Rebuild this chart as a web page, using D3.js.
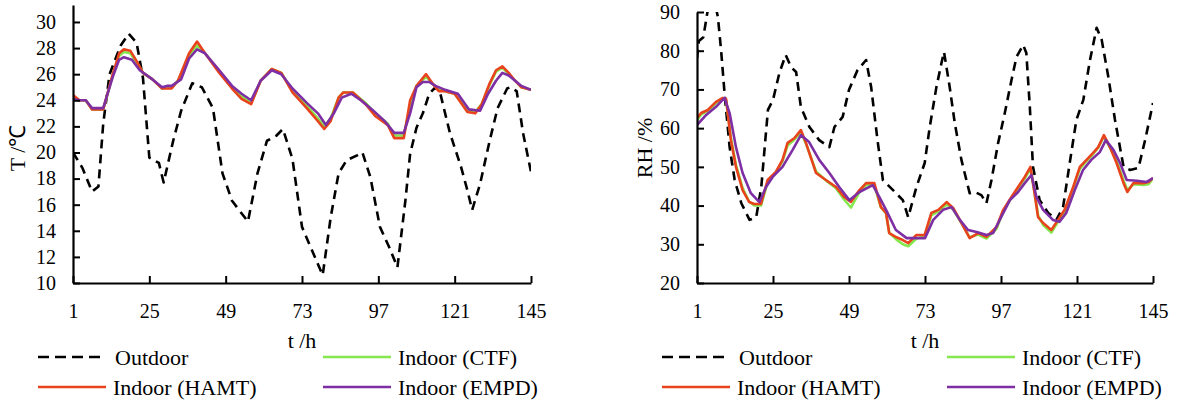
<!DOCTYPE html>
<html>
<head>
<meta charset="utf-8">
<script src="https://cdn.jsdelivr.net/npm/d3@7"></script>
<style>
  body { margin: 0; background: #fff; }
  text { font-family: "Liberation Serif", "Times New Roman", serif; fill: #000; }
</style>
</head>
<body>
<svg id="chart" width="1177" height="404"></svg>
<script>
// hours shown on both x axes
var hourTicks = [1, 25, 49, 73, 97, 121, 145];
var tempTicks = [10, 12, 14, 16, 18, 20, 22, 24, 26, 28, 30];
var rhTicks = [20, 30, 40, 50, 60, 70, 80, 90];

// temperature, [hour, degC]
var tOutdoor = [[1,20],[4,18.8],[7,17],[9,17.4],[10.5,22.2],[12.5,26],[16,28.2],[18.5,29.1],[21,28.4],[23,25.7],[25,19.6],[28,19.2],[29.5,17.7],[32.5,20.9],[35,23.2],[38.5,25.3],[41.5,25],[45,23.4],[48,18.4],[51,16.3],[56,14.7],[59,18.4],[62,20.9],[65,21.3],[67,21.8],[70,19.5],[73,14.3],[76.5,12.3],[79.5,10.6],[82,15],[84.5,18.4],[87,19.4],[90.5,19.8],[92,20],[94.5,18.1],[97.5,14.3],[100.5,12.7],[103,11.2],[105.5,16.3],[107,19.9],[109,21.9],[111,23],[113,24.5],[115,25],[116.5,24.5],[119.5,21.5],[123,18.9],[125,17.1],[126.5,15.6],[129,17.6],[132,20.9],[134.5,23.4],[137.5,24.9],[138.5,25],[140.5,24.7],[142.5,21.5],[145,18.5]];
var tCTF = [[1,24.3],[3,24],[5,24],[7,23.3],[10.5,23.3],[13.5,25.9],[15.5,27.4],[17,27.7],[19,27.6],[21,26.9],[23,26.1],[26,25.6],[29,24.9],[32,25],[34,25.5],[37.5,27.4],[40,28.2],[42.5,27.6],[47,26.2],[51,25],[54,24.3],[57,23.8],[60,25.5],[63.5,26.4],[66.5,26.1],[70,24.7],[74.5,23.6],[78,22.6],[80,22],[82,22.6],[84.5,24.2],[86,24.6],[89,24.6],[93,23.8],[96,23],[100,22.2],[102,21.3],[105,21.3],[107,23.6],[109,25.1],[112,25.8],[114,25.3],[116,24.8],[118,24.7],[121,24.5],[125,23.2],[127.5,23.1],[129.5,23.7],[132,25.2],[134,26.2],[136,26.5],[138,26],[140,25.5],[142,25],[145,24.8]];
var tHAMT = [[1,24.4],[3,24],[5,24],[7,23.3],[10.5,23.3],[13.5,26],[15.5,27.6],[17,27.9],[19,27.8],[21,27],[23,26.1],[26,25.6],[29,24.9],[32,24.9],[34,25.5],[37.5,27.6],[40,28.5],[42.5,27.6],[47,26.1],[51,24.9],[54,24.1],[57,23.7],[60,25.5],[63.5,26.4],[66.5,26.1],[70,24.6],[74.5,23.4],[78,22.4],[80,21.8],[82,22.4],[84.5,24.2],[86,24.6],[89,24.6],[93,23.7],[96,22.8],[100,22.1],[102,21.1],[105,21.1],[107,24],[109,25.1],[112,26],[114,25.3],[116,24.7],[118,24.7],[121,24.5],[125,23.1],[127.5,23],[129.5,23.7],[132,25.3],[134,26.3],[136,26.6],[138,26.1],[140,25.5],[142,25],[145,24.8]];
var tEMPD = [[1,24.1],[3,24],[5,24],[7,23.4],[10.5,23.4],[13.5,25.8],[15.5,27.1],[17,27.3],[19.5,27.1],[22,26.3],[26,25.6],[29,25],[30.5,25.1],[32,25.1],[35,25.6],[37.5,27.2],[40,27.9],[42.5,27.6],[47,26.3],[51,25.1],[54,24.5],[57,24],[60,25.5],[63.5,26.3],[66.5,26],[70,24.9],[74.5,23.8],[78,23],[80.5,22.1],[83,23],[85.5,24.2],[88.5,24.5],[91.5,24],[95,23.3],[99,22.4],[102,21.5],[105,21.5],[107,23],[109,25],[111,25.4],[113,25.4],[115,25.1],[118,24.8],[122,24.5],[125.5,23.3],[129,23.2],[131.5,24.5],[134,25.5],[136,26.1],[138,25.9],[140,25.5],[142,25.1],[145,24.8]];

// relative humidity, [hour, %]
var rhOutdoor = [[1,78],[1.6,82.5],[3,83.5],[4.5,91],[7,91],[7.6,88.7],[8.6,80.2],[9.7,69],[11.3,55.1],[12.9,46.6],[15,40.6],[17.6,36.3],[19.7,37],[21.3,44.8],[23.4,64.7],[25,67.3],[27,74.2],[29,78.9],[30.7,75.8],[32.3,74.5],[33.8,65.5],[36.5,60.3],[39.6,56.9],[42.8,55.1],[44.4,60.3],[47,62.9],[49,69.9],[51.7,75],[54.4,77.6],[56,70.6],[58,56.9],[59.7,46.6],[62.9,44],[66,41.4],[67.7,37],[70.3,44.8],[72.9,51],[74.5,60.3],[76.6,70.6],[78.2,76.8],[79,79.7],[80.8,70.6],[82.4,61.3],[84.5,51.8],[87.1,43.2],[88.7,43.5],[90.8,42.7],[92.4,40.6],[94,46.6],[96.1,56.2],[98.2,63.9],[100.3,72.4],[101.9,78.4],[104,81.5],[105,79.4],[106.1,65.5],[107.1,50],[109.2,41.4],[111.9,38.1],[114.5,36.3],[116.6,39.6],[118.7,51],[120.8,62.1],[123,67.3],[125.1,77.6],[127.2,85.9],[128.8,82.8],[130.9,73.2],[133,62.1],[135.7,50],[137.8,49.2],[140.4,49.7],[142.5,56.9],[145,66.5]];
var rhCTF = [[1,62],[2.3,63.5],[4.4,64.5],[7,66.5],[9.1,67.5],[10.2,67.2],[11.7,57.5],[13.3,50.5],[15.4,44.5],[17.5,41],[19.1,40],[21.2,40],[23.3,46],[25.9,48.5],[28,51.5],[29.6,55.5],[31.7,57],[33.8,59],[35.4,56],[38.6,48.8],[41.7,46.5],[44.9,44.5],[47.5,41.5],[49.6,39.5],[52.3,43.5],[54.4,45.3],[57,45.3],[59.1,39.5],[60.7,38],[61.7,33],[64,31.2],[66,30],[67.7,29.5],[70.3,31.5],[72.9,32],[75,37.5],[77.2,38.5],[79.8,40.3],[81.9,39],[84.5,35.5],[87.1,31.8],[89.8,32.5],[92.4,31.5],[95.6,34],[97.7,38.5],[100.3,42],[102.4,44.5],[104.5,47],[106.3,49.5],[107.6,43.5],[108.7,37.5],[110.3,35],[112.9,33],[115,35.8],[117.1,38.5],[119.8,44.5],[121.9,49.5],[124,51.5],[126.1,53.3],[127.7,55],[129.5,57.8],[131.4,55],[133.5,51.5],[135.7,46.5],[136.9,44],[138.8,45.5],[142,45.3],[143.6,45.5],[145,47]];
var rhHAMT = [[1,62.6],[2.3,63.9],[4.4,64.7],[7,66.8],[9.1,67.8],[10.2,67.5],[11.7,56.9],[13.3,50],[15.4,44],[17.5,40.9],[19.1,40.4],[21.2,40.4],[23.3,46.6],[25.9,48.7],[28,51.8],[29.6,56.2],[31.7,57.4],[33.8,59.5],[35.4,56.2],[38.6,48.4],[41.7,46.6],[44.9,44.8],[47.5,42.2],[49.6,40.9],[52.3,44],[54.4,45.8],[57,45.8],[59.1,39.6],[60.7,38.1],[61.7,32.9],[64,31.8],[66,31.1],[67.7,30.3],[70.3,32.4],[72.9,32.4],[75,38.1],[77.2,38.9],[79.8,40.9],[81.9,39.4],[84.5,35.5],[87.1,31.6],[89.8,32.9],[92.4,31.9],[95.6,34.5],[97.7,38.9],[100.3,42.2],[102.4,44.8],[104.5,47.4],[106.3,50],[107.6,43.2],[108.7,37],[110.3,35.5],[112.9,33.7],[115,36.3],[117.1,38.9],[119.8,44.8],[121.9,50],[124,51.8],[126.1,53.6],[127.7,55.1],[129.5,58.2],[131.4,55.1],[133.5,51],[135.7,45.8],[136.9,43.5],[138.8,45.8],[142,45.8],[143.6,46.1],[145,47.1]];
var rhEMPD = [[1,60.8],[3.9,63.4],[7,65.5],[9.7,67.8],[11.3,63.9],[13.3,55.1],[15.4,48.4],[18,43.2],[20.7,40.9],[22.8,44.8],[24.9,47.4],[28,50],[31.2,54.4],[33.8,58.2],[36.4,56.4],[39.6,51.8],[42.8,48.4],[45.9,44.8],[49.1,41.4],[52.3,43.5],[56.5,45.3],[58.6,42.2],[60.7,38.9],[63.8,33.7],[67.2,31.6],[71,31.6],[73,31.6],[75.6,36.3],[78.7,38.9],[81.4,39.6],[84,36.3],[86.6,33.7],[89.3,33.2],[92.4,32.4],[94.5,32.9],[96.6,36.3],[99.8,41.4],[102.4,43.5],[104.5,45.8],[106.6,47.9],[108.2,42.2],[110.3,38.9],[113.4,36.3],[115.5,35.8],[117.6,38.1],[120.3,44],[122.9,49.2],[125.5,51.8],[128.2,53.8],[130.1,56.9],[132.5,54.4],[134.6,51],[136.7,46.6],[139.9,46.4],[143,46.1],[145,47.1]];

var seriesNames = ["Outdoor", "Indoor (CTF)", "Indoor (HAMT)", "Indoor (EMPD)"];
var seriesColors = ["#000000", "#84e84e", "#e8431c", "#7d2fa3"];

var svg = d3.select("#chart");

var panels = [
    {id: "t", left: 73, right: 531, top: 5, bottom: 283, domain: [10, 31.3], ticks: tempTicks,
     title: "T /\u2103", titleX: 17, series: [tOutdoor, tCTF, tHAMT, tEMPD]},
    {id: "rh", left: 697, right: 1153, top: 12, bottom: 283, domain: [20, 90], ticks: rhTicks,
     title: "RH /%", titleX: 644, series: [rhOutdoor, rhCTF, rhHAMT, rhEMPD]}
];

panels.forEach(function(p) {
    var x = d3.scaleLinear().domain([1, 145]).range([p.left, p.right]);
    var y = d3.scaleLinear().domain(p.domain).range([p.bottom, p.top]);

    svg.append("clipPath").attr("id", "clip-" + p.id)
        .append("rect")
        .attr("x", p.left).attr("y", p.top)
        .attr("width", p.right - p.left).attr("height", p.bottom - p.top);

    var line = d3.line()
        .x(function(d) { return x(d[0]); })
        .y(function(d) { return y(d[1]); });

    var g = svg.append("g").attr("clip-path", "url(#clip-" + p.id + ")");
    p.series.forEach(function(s, i) {
        g.append("path")
            .datum(s)
            .attr("d", line)
            .style("fill", "none")
            .style("stroke", seriesColors[i])
            .style("stroke-width", 2.6)
            .style("stroke-linejoin", "round")
            .style("stroke-dasharray", i == 0 ? "9,6" : null);
    });

    // axes, ticks point inwards
    var xAxis = svg.append("g")
        .attr("transform", "translate(0," + p.bottom + ")")
        .call(d3.axisBottom(x).tickValues(hourTicks).tickSizeInner(-7).tickSizeOuter(0).tickPadding(21));
    var yAxis = svg.append("g")
        .attr("transform", "translate(" + p.left + ",0)")
        .call(d3.axisLeft(y).tickValues(p.ticks).tickSizeInner(-7).tickSizeOuter(0).tickPadding(17));

    [xAxis, yAxis].forEach(function(a) {
        a.select(".domain").style("stroke", "#000").style("stroke-width", 2.2);
        a.selectAll(".tick line").style("stroke", "#000").style("stroke-width", 2);
        a.selectAll(".tick text")
            .style("font-family", "Liberation Serif, Times New Roman, serif")
            .style("font-size", "20px")
            .style("fill", "#000");
    });

    svg.append("text")
        .attr("x", (p.left + p.right) / 2)
        .attr("y", 340)
        .attr("dy", "0.35em")
        .attr("text-anchor", "middle")
        .style("font-size", "22px")
        .text("t /h");

    svg.append("text")
        .attr("text-anchor", "middle")
        .attr("dy", "0.35em")
        .attr("transform", "translate(" + p.titleX + ",148)rotate(-90)")
        .style("font-size", "22px")
        .text(p.title);

    // legend, two rows of two
    var legendPos = [[p.left - 35, 358], [p.left + 250, 358], [p.left - 35, 388], [p.left + 250, 388]];
    seriesNames.forEach(function(name, i) {
        var lx = legendPos[i][0], ly = legendPos[i][1];
        svg.append("line")
            .attr("x1", lx).attr("x2", lx + 68)
            .attr("y1", ly - 1).attr("y2", ly - 1)
            .style("stroke", seriesColors[i])
            .style("stroke-width", 2.6)
            .style("stroke-dasharray", i == 0 ? "11,6" : null);
        svg.append("text")
            .attr("x", lx + (i == 0 ? 77 : 75))
            .attr("y", ly)
            .attr("dy", "0.33em")
            .style("font-size", "22px")
            .text(name);
    });
});
</script>
</body>
</html>
